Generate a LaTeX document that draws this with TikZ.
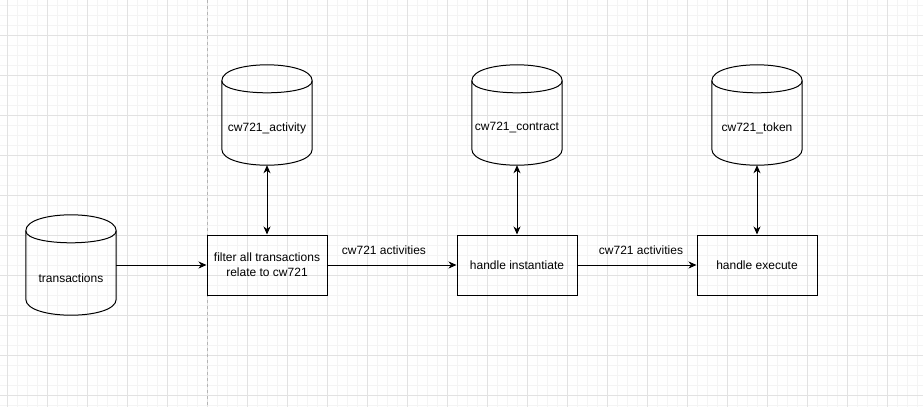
\documentclass[tikz,border=0pt]{standalone}
\usepackage{fontspec}
\setmainfont{Liberation Sans}
\usetikzlibrary{arrows.meta}
\definecolor{gridminor}{HTML}{F4F4F4}
\definecolor{gridmajor}{HTML}{E2E2E2}
\definecolor{pageline}{HTML}{B4B4B4}
\tikzstyle{box}=[draw, line width=1pt, minimum width=120pt, minimum height=60pt, inner sep=0pt, align=center, font=\fontsize{12}{15}\selectfont]
\tikzstyle{db}=[minimum width=90pt, minimum height=100pt, inner sep=0pt]
\tikzstyle{dbtext}=[inner sep=0pt, yshift=-13pt, font=\fontsize{12}{15}\selectfont]
\tikzstyle{flow}=[line width=1pt, -{Stealth[length=8pt, width=7pt, inset=2.5pt]}]
\tikzstyle{both}=[line width=1pt, {Stealth[length=8pt, width=7pt, inset=2.5pt]}-{Stealth[length=8pt, width=7pt, inset=2.5pt]}]
\tikzstyle{flowlabel}=[inner sep=0pt, above=10pt, font=\fontsize{12}{15}\selectfont]
\newcommand{\dbshape}[1]{%
  \draw[line width=1pt] ([yshift=-16pt]#1.north west) .. controls ([yshift=5.33pt]#1.north west) and ([yshift=5.33pt]#1.north east) .. ([yshift=-16pt]#1.north east)
    -- ([yshift=16pt]#1.south east) .. controls ([yshift=-5.33pt]#1.south east) and ([yshift=-5.33pt]#1.south west) .. ([yshift=16pt]#1.south west) -- cycle;
  \draw[line width=1pt] ([yshift=-16pt]#1.north west) .. controls ([yshift=-32pt]#1.north west) and ([yshift=-32pt]#1.north east) .. ([yshift=-16pt]#1.north east);}

\begin{document}
\begin{tikzpicture}[x=1pt, y=-1pt]
% Canvas
    \useasboundingbox (0,0) rectangle (923,407);
    \fill[white] (0,0) rectangle (923,407);
    \foreach \gx in {7,17,...,917} \draw[gridminor, line width=0.8pt] (\gx,0) -- (\gx,407);
    \foreach \gy in {5,15,...,405} \draw[gridminor, line width=0.8pt] (0,\gy) -- (923,\gy);
    \foreach \gx in {7,47,...,887} \draw[gridmajor, line width=0.8pt] (\gx,0) -- (\gx,407);
    \foreach \gy in {35,75,...,395} \draw[gridmajor, line width=0.8pt] (0,\gy) -- (923,\gy);
    \draw[pageline, line width=0.8pt, dash pattern=on 3pt off 3pt] (207,0) -- (207,407);
% Databases
    \node[db, label={[dbtext]center:transactions}] (tx) at (71,265) {};
    \node[db, label={[dbtext]center:cw721\_activity}] (activity) at (267,115) {};
    \node[db, label={[dbtext]center:cw721\_contract}] (contract) at (517,115) {};
    \node[db, label={[dbtext]center:cw721\_token}] (token) at (757,115) {};
    \dbshape{tx}
    \dbshape{activity}
    \dbshape{contract}
    \dbshape{token}
% Steps
    \node[box] (filter) at (267,265) {filter all transactions\\relate to cw721};
    \node[box] (instantiate) at (517,265) {handle instantiate};
    \node[box] (execute) at (757,265) {handle execute};
% Flow
    \draw[flow] (tx.east) -- (filter.west);
    \draw[flow] (filter.east) -- node[flowlabel, xshift=-8pt] {cw721 activities} (instantiate.west);
    \draw[flow] (instantiate.east) -- node[flowlabel, xshift=4pt] {cw721 activities} (execute.west);
    \draw[both] (activity.south) -- (filter.north);
    \draw[both] (contract.south) -- (instantiate.north);
    \draw[both] (token.south) -- (execute.north);
\end{tikzpicture}
\end{document}
